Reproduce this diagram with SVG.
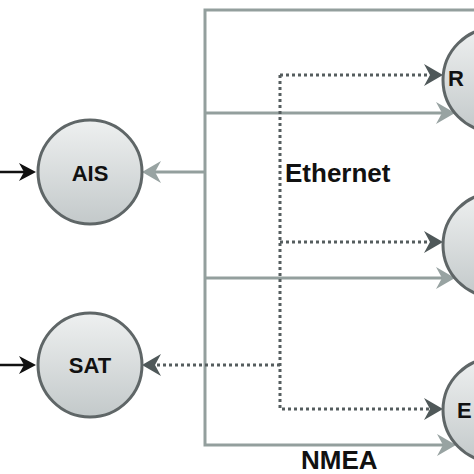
<svg xmlns="http://www.w3.org/2000/svg" width="474" height="474" viewBox="0 0 474 474">
<style>
.node circle{stroke:#5f6667;stroke-width:3;fill:url(#g)}
.lbl{font-family:"Liberation Sans",Arial,sans-serif;font-weight:bold;fill:#111}
.gray{fill:none;stroke:#939f9d;stroke-width:3}
.dot{fill:none;stroke:#555d5e;stroke-width:3;stroke-dasharray:3 3}
.blk{fill:none;stroke:#111;stroke-width:2.5}
</style>
<defs>
<linearGradient id="g" x1="0" y1="0" x2="0" y2="1">
<stop offset="0" stop-color="#eef0f0"/>
<stop offset="1" stop-color="#c3c9ca"/>
</linearGradient>
<marker id="ag" markerUnits="userSpaceOnUse" viewBox="-1 -12 21 24" markerWidth="21" markerHeight="24" refX="6" refY="0" orient="auto">
<path d="M0,-11 L19,0 L0,11 L6,0 Z" fill="#98a3a2"/>
</marker>
<marker id="ad" markerUnits="userSpaceOnUse" viewBox="-1 -12 21 24" markerWidth="21" markerHeight="24" refX="6" refY="0" orient="auto">
<path d="M0,-11 L19,0 L0,11 L6,0 Z" fill="#4f5859"/>
</marker>
<marker id="ab" markerUnits="userSpaceOnUse" viewBox="-1 -11 20 22" markerWidth="20" markerHeight="22" refX="6" refY="0" orient="auto">
<path d="M0,-9 L17,0 L0,9 L5,0 Z" fill="#111"/>
</marker>
</defs>
<g id="connectors">
<path class="gray" d="M474,10 H205 V445 H443" marker-end="url(#ag)"/>
<path class="gray" d="M205,113 H442" marker-end="url(#ag)"/>
<path class="gray" d="M205,278 H442" marker-end="url(#ag)"/>
<path class="gray" d="M205,172 H155" marker-end="url(#ag)"/>
<path class="dot" d="M280,75 H430" marker-end="url(#ad)"/>
<path class="dot" d="M280,75 V409 H430" marker-end="url(#ad)"/>
<path class="dot" d="M280,242 H430" marker-end="url(#ad)"/>
<path class="dot" d="M280,365 H155" marker-end="url(#ad)"/>
<path class="blk" d="M0,172 H25" marker-end="url(#ab)"/>
<path class="blk" d="M0,365 H25" marker-end="url(#ab)"/>
<text class="lbl" x="285" y="182" font-size="26">Ethernet</text>
<text class="lbl" x="301" y="469" font-size="26">NMEA</text>
</g>
<g id="ais" class="node"><circle cx="90" cy="172" r="52"/><text class="lbl" x="90" y="181" font-size="22" text-anchor="middle">AIS</text></g>
<g id="sat" class="node"><circle cx="90" cy="365" r="52"/><text class="lbl" x="90" y="373" font-size="22" text-anchor="middle">SAT</text></g>
<g id="r" class="node"><circle cx="495" cy="80" r="52"/><text class="lbl" x="448" y="86" font-size="22">R</text></g>
<g id="mid" class="node"><circle cx="495" cy="245" r="52"/></g>
<g id="e" class="node"><circle cx="495" cy="410" r="52"/><text class="lbl" x="457" y="418" font-size="22">E</text></g>
</svg>
